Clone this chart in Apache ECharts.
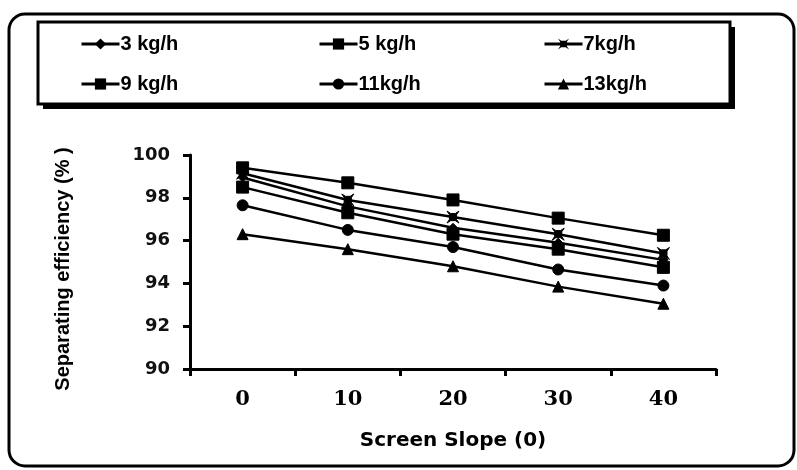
<!DOCTYPE html>
<html>
<head>
<meta charset="utf-8">
<script src="https://cdn.jsdelivr.net/npm/echarts@6/dist/echarts.min.js"></script>
<style>
html,body{margin:0;padding:0;background:#fff;}
#chart{width:797px;height:470px;}
</style>
</head>
<body>
<div id="chart"></div>
<script>
const categories = ['0', '10', '20', '30', '40'];
const seriesNames = ['3 kg/h', '5 kg/h', '7kg/h', '9 kg/h', '11kg/h', '13kg/h'];
const s3 = [98.95, 97.6, 96.6, 95.9, 95.1];
const s5 = [99.4, 98.7, 97.9, 97.05, 96.25];
const s7 = [99.15, 97.9, 97.1, 96.3, 95.4];
const s9 = [98.5, 97.3, 96.3, 95.6, 94.75];
const s11 = [97.65, 96.5, 95.7, 94.65, 93.9];
const s13 = [96.3, 95.6, 94.8, 93.85, 93.05];
const yMin = 90, yMax = 100, yStep = 2;
const xTitle = 'Screen Slope (0)';
const yTitle = 'Separating efficiency (% )';

const starPath = 'path://M0,0 L3,2 L7,2 L10,0 L8,3 L8,7 L10,10 L7,8 L3,8 L0,10 L2,7 L2,3 Z';
const seriesData = [s3, s5, s7, s9, s11, s13];
const symbols = ['diamond', 'rect', starPath, 'rect', 'circle', 'triangle'];
const sizes = [9, 12, 12, 12, 11, 11];

const chart = echarts.init(document.getElementById('chart'), null, {renderer: 'canvas'});

const legendPos = [
  [80, 34], [318, 34], [543, 34],
  [80, 74], [318, 74], [543, 74]
];
const legends = seriesNames.map((n, i) => ({
  data: [n],
  left: legendPos[i][0],
  top: legendPos[i][1],
  itemWidth: 38,
  itemHeight: 14,
  padding: 0,
  lineStyle: {width: 3, color: '#000'},
  itemStyle: {color: '#000', borderColor: '#000'},
  textStyle: {fontFamily: 'Liberation Sans', fontWeight: 'bold', fontSize: 20, color: '#000', padding: [0, 0, 0, -4]},
  selectedMode: false
}));

chart.setOption({
  animation: false,
  backgroundColor: '#fff',
  graphic: [
    {type: 'rect', shape: {x: 9, y: 14, width: 785, height: 452, r: 16}, style: {fill: 'none', stroke: '#000', lineWidth: 3}, z: 0},
    {type: 'rect', shape: {x: 43, y: 27, width: 692, height: 82}, style: {fill: '#000'}, z: 0},
    {type: 'rect', shape: {x: 38, y: 22, width: 692, height: 82}, style: {fill: '#fff', stroke: '#000', lineWidth: 3}, z: 1}
  ],
  legend: legends,
  grid: {left: 190, right: 81, top: 155, bottom: 101, containLabel: false},
  xAxis: {
    type: 'category',
    data: categories,
    boundaryGap: true,
    name: xTitle,
    nameLocation: 'middle',
    nameGap: 62,
    nameTextStyle: {fontFamily: 'DejaVu Sans', fontWeight: 'bold', fontSize: 20, color: '#000'},
    axisLine: {lineStyle: {color: '#000', width: 3}},
    axisTick: {show: true, alignWithLabel: false, length: 7, lineStyle: {color: '#000', width: 3}},
    axisLabel: {fontFamily: 'DejaVu Serif', fontWeight: 'bold', fontSize: 21, color: '#000', margin: 20},
    splitLine: {show: false}
  },
  yAxis: {
    type: 'value',
    min: yMin, max: yMax, interval: yStep,
    name: yTitle,
    nameLocation: 'middle',
    nameGap: 117,
    nameRotate: 90,
    nameTextStyle: {fontFamily: 'Liberation Sans', fontWeight: 'bold', fontSize: 20, color: '#000', padding: [0, 14, 0, 0]},
    axisLine: {show: true, lineStyle: {color: '#000', width: 3}},
    axisTick: {show: true, length: 7, lineStyle: {color: '#000', width: 3}},
    axisLabel: {fontFamily: 'DejaVu Sans', fontWeight: 'bold', fontSize: 18, color: '#111', margin: 20},
    splitLine: {show: false}
  },
  series: seriesNames.map((n, i) => ({
    name: n,
    type: 'line',
    data: seriesData[i],
    symbol: symbols[i],
    symbolSize: sizes[i],
    lineStyle: {color: '#000', width: 2.5},
    itemStyle: {color: '#000', borderColor: '#000'},
    z: 3
  }))
});
</script>
</body>
</html>
